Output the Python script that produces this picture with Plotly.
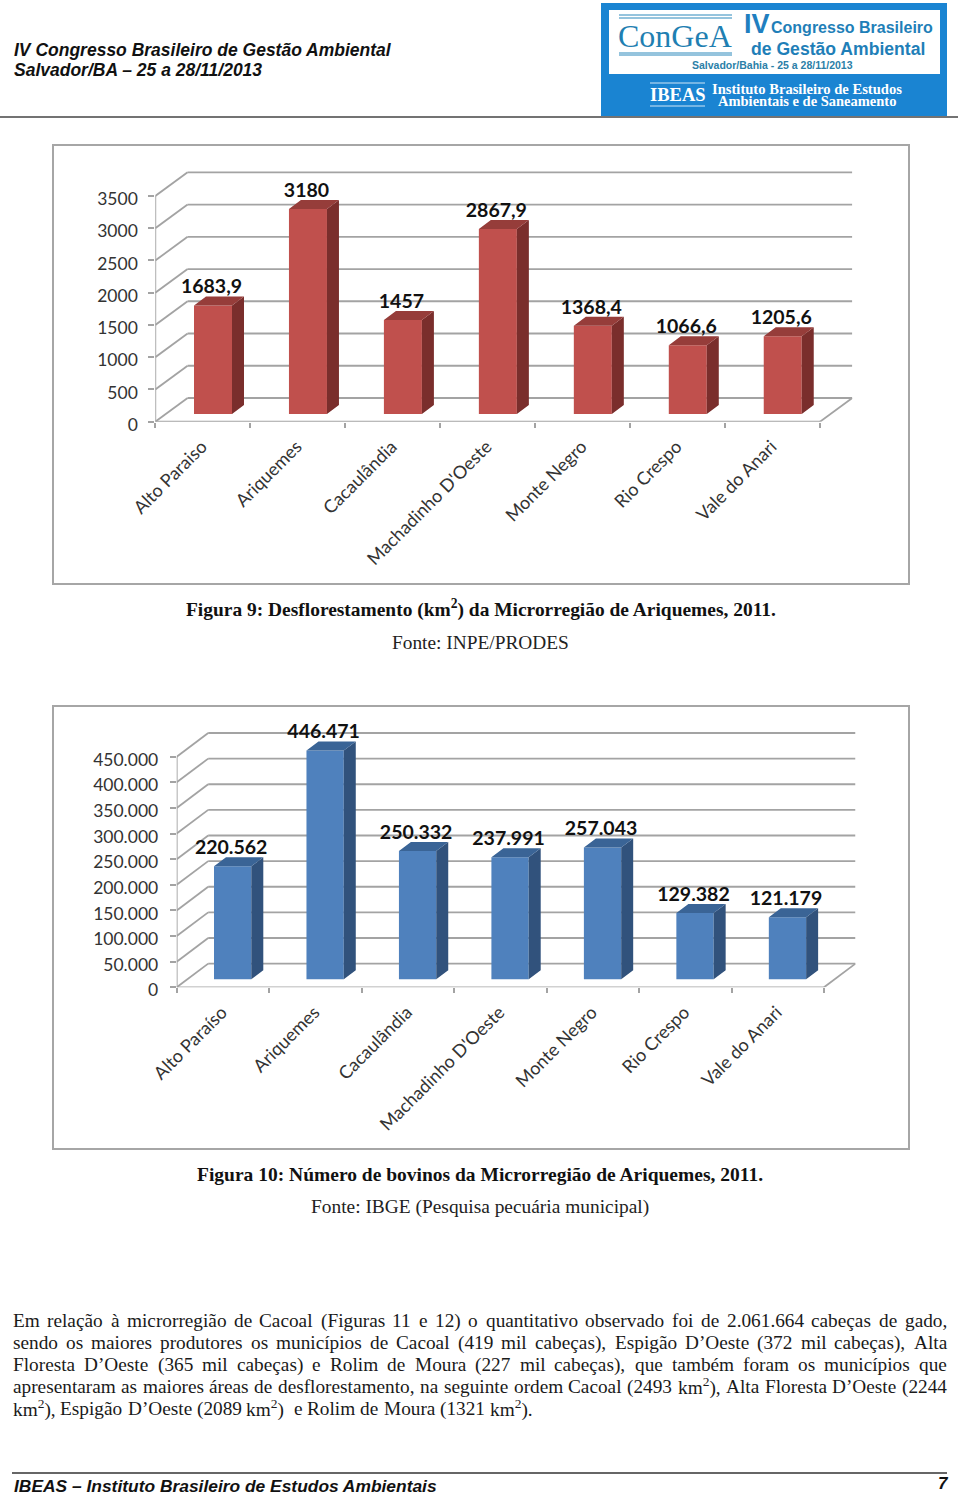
import plotly.graph_objects as go

# ---------- data ----------
categories_fig9 = ["Alto Paraiso", "Ariquemes", "Cacaulândia", "Machadinho D'Oeste", "Monte Negro", "Rio Crespo", "Vale do Anari"]
categories_fig10 = ["Alto Paraíso", "Ariquemes", "Cacaulândia", "Machadinho D'Oeste", "Monte Negro", "Rio Crespo", "Vale do Anari"]
deforestation_km2 = [1683.9, 3180, 1457, 2867.9, 1368.4, 1066.6, 1205.6]
deforestation_labels = ["1683,9", "3180", "1457", "2867,9", "1368,4", "1066,6", "1205,6"]
cattle_head = [220562, 446471, 250332, 237991, 257043, 129382, 121179]
cattle_labels = ["220.562", "446.471", "250.332", "237.991", "257.043", "129.382", "121.179"]
ticks_fig9 = [0, 500, 1000, 1500, 2000, 2500, 3000, 3500]
ticktext_fig9 = ["0", "500", "1000", "1500", "2000", "2500", "3000", "3500"]
ticks_fig10 = [0, 50000, 100000, 150000, 200000, 250000, 300000, 350000, 400000, 450000]
ticktext_fig10 = ["0", "50.000", "100.000", "150.000", "200.000", "250.000", "300.000", "350.000", "400.000", "450.000"]

W, H = 960, 1496
PX = lambda x: x / W
PY = lambda y: 1 - y / H
GRID = "#a3a3a3"
TXT = "#333333"
CHART_FONT = "Lato"
SERIF = "Liberation Serif"
SANS = "Liberation Sans"

fig = go.Figure()
shapes = []
annotations = []


def note(x, y, text, size, family=SERIF, color="#111111", anchor="left", bold=False, italic=False, yanchor="middle"):
    annotations.append(dict(
        x=PX(x), y=PY(y), xref="paper", yref="paper", text=text, showarrow=False,
        xanchor=anchor, yanchor=yanchor, align=anchor, borderpad=0,
        font=dict(family=family, size=size, color=color,
                  weight="bold" if bold else "normal", style="italic" if italic else "normal"),
    ))


def box(x0, y0, x1, y1, fill=None, line=None, lw=0, kind="rect"):
    shapes.append(dict(type=kind, xref="paper", yref="paper", x0=PX(x0), x1=PX(x1), y0=PY(y0), y1=PY(y1),
                       fillcolor=fill, line=dict(color=line, width=lw), layer="below"))


def chart(idx, cats, vals, labels, ticks, ticktext, xl, xr, y0, ymax_px, dx, dy,
          bar_left, bar_w, base_px, front, side, top, ystandoff):
    """xl/xr: front floor ends in px; y0/ymax_px: px of 0 and of the top tick; dx/dy: wall depth in px."""
    n = len(cats)
    cat_px = (xr - xl) / n
    val_per_px = ticks[-1] / (y0 - ymax_px)
    xa, ya = f"x{idx}", f"y{idx}"
    xname, yname = f"xaxis{idx}", f"yaxis{idx}"
    X = lambda p: p / cat_px
    V = lambda p: p * val_per_px
    wx, wy = X(dx), V(dy)
    pad = 20  # headroom above the wall so that the tallest value label stays in range

    fig.update_layout({
        xname: dict(domain=[PX(xl), PX(xr + dx)], range=[0, n + wx], anchor=ya, tickmode="array",
                    tickvals=[i + 0.5 for i in range(n)], ticktext=cats, tickangle=-45, ticks="",
                    ticklabelstandoff=10, ticklabelshift=-1, showgrid=False, zeroline=False, showline=False,
                    automargin=False, tickfont=dict(family=CHART_FONT, size=18, color=TXT),
                    minor=dict(tickmode="array", tickvals=list(range(n + 1)), ticks="outside", ticklen=5,
                               tickcolor=GRID, tickwidth=1.5, showgrid=False)),
        yname: dict(domain=[PY(y0), PY(ymax_px - dy - pad)], range=[0, ticks[-1] + V(dy + pad)], anchor=xa,
                    tickmode="array", tickvals=ticks, ticktext=ticktext, ticks="outside", ticklen=6,
                    tickcolor=GRID, tickwidth=1.5, ticklabelstandoff=ystandoff, ticklabelshift=3,
                    showgrid=False, zeroline=False, showline=False, automargin=False,
                    tickfont=dict(family=CHART_FONT, size=17.5, color=TXT)),
    })

    # wall and floor lines come from the tick values
    seg = dict(type="line", xref=xa, yref=ya, layer="below", line=dict(color=GRID, width=1.8))
    for t in ticks:
        shapes.append({**seg, "x0": 0, "y0": t, "x1": wx, "y1": t + wy})
        shapes.append({**seg, "x0": wx, "y0": t + wy, "x1": n + wx, "y1": t + wy})
    shapes.append({**seg, "x0": 0, "y0": 0, "x1": 0, "y1": ticks[-1]})
    shapes.append({**seg, "x0": 0, "y0": 0, "x1": n, "y1": 0})
    shapes.append({**seg, "x0": n, "y0": 0, "x1": n + wx, "y1": wy})

    offset = X(bar_left - xl)
    bw = X(bar_w)
    base = V(base_px)
    sdx, sdy = X(12), V(9)
    centers = [i + offset + bw / 2 for i in range(n)]

    fig.add_trace(go.Bar(x=centers, y=vals, base=[base] * n, width=bw, marker=dict(color=front, line=dict(width=0)),
                         xaxis=xa, yaxis=ya, hoverinfo="skip", showlegend=False))
    sx, sy, tx, ty = [], [], [], []
    for c, v in zip(centers, vals):
        l, r, b, t = c - bw / 2, c + bw / 2, base, base + v
        sx += [r, r + sdx, r + sdx, r, r, None]
        sy += [b, b + sdy, t + sdy, t, b, None]
        tx += [l, l + sdx, r + sdx, r, l, None]
        ty += [t, t + sdy, t + sdy, t, t, None]
    for px_, py_, col in ((sx, sy, side), (tx, ty, top)):
        fig.add_trace(go.Scatter(x=px_, y=py_, mode="lines", fill="toself", fillcolor=col, line=dict(width=0),
                                 xaxis=xa, yaxis=ya, hoverinfo="skip", showlegend=False))
    fig.add_trace(go.Scatter(x=[c - X(1.5) for c in centers], y=[base + v + V(17) for v in vals], text=labels,
                             mode="text", textposition="middle center", cliponaxis=False,
                             textfont=dict(family=CHART_FONT, size=19.5, color="#111111", weight="bold"),
                             xaxis=xa, yaxis=ya, hoverinfo="skip", showlegend=False))


# frames
box(53, 145, 909, 584, fill="white", line="#a6a6a6", lw=2)
box(53, 706, 909, 1149, fill="white", line="#a6a6a6", lw=2)

chart(1, categories_fig9, deforestation_km2, deforestation_labels, ticks_fig9, ticktext_fig9,
      155.3, 820, 421.7, 196, 32.3, 23.7, 194, 38, 7.7, "#c0504d", "#7a2e2c", "#963d3a", 7)
chart(2, categories_fig10, cattle_head, cattle_labels, ticks_fig10, ticktext_fig10,
      176.7, 824, 987.3, 756.7, 31.5, 23.7, 214, 37.3, 8, "#4f81bd", "#31527c", "#3a6496", 8)

# header
note(13, 50, "IV Congresso Brasileiro de Gestão Ambiental", 17.5, SANS, "#111111", bold=True, italic=True)
note(13, 70, "Salvador/BA – 25 a 28/11/2013", 17.5, SANS, "#111111", bold=True, italic=True)
box(0, 117, 958, 117, line="#444444", lw=1.5, kind="line")

# logo
box(601, 3, 947, 116, fill="#1a84d2")
box(609, 10, 940, 74, fill="white")
for yy in (15, 18, 53, 55):
    box(619, yy, 732, yy, line="#2a88bb", lw=1, kind="line")
note(617, 36, "ConGeA", 32, SERIF, "#1f7fb2")
note(743, 24, "IV", 27, SANS, "#1f7fc0", bold=True)
note(770, 27, "Congresso Brasileiro", 16, SANS, "#1f7fb8", bold=True)
note(750, 49, "de Gestão Ambiental", 17.6, SANS, "#1f7fb8", bold=True)
note(691, 65, "Salvador/Bahia - 25 a 28/11/2013", 10.5, SANS, "#2b7fa8", bold=True)
for yy in (83, 106):
    box(650, yy, 705, yy, line="#cfe6f6", lw=1, kind="line")
note(649, 95, "IBEAS", 18.5, SERIF, "white", bold=True)
note(711, 89, "Instituto Brasileiro de Estudos", 14.6, SERIF, "white", bold=True)
note(717, 101, "Ambientais e de Saneamento", 14.5, SERIF, "white", bold=True)

# captions
note(480.5, 608.5, "Figura 9: Desflorestamento (km<sup>2</sup>) da Microrregião de Ariquemes, 2011.", 19.45, SERIF, "#111111", "center", bold=True)
note(480, 642, "Fonte: INPE/PRODES", 19.35, SERIF, "#222222", "center")
note(480, 1174, "Figura 10: Número de bovinos da Microrregião de Ariquemes, 2011.", 19.5, SERIF, "#111111", "center", bold=True)
note(480, 1207, "Fonte: IBGE (Pesquisa pecuária municipal)", 19.4, SERIF, "#222222", "center")

# body text: justified word by word using Times metrics
paragraph_lines = [
    "Em relação à microrregião de Cacoal (Figuras 11 e 12) o quantitativo observado foi de 2.061.664 cabeças de gado,",
    "sendo os maiores produtores os municípios de Cacoal (419 mil cabeças), Espigão D’Oeste (372 mil cabeças), Alta",
    "Floresta D’Oeste (365 mil cabeças) e Rolim de Moura (227 mil cabeças), que também foram os municípios que",
    "apresentaram as maiores áreas de desflorestamento, na seguinte ordem Cacoal (2493 km<sup>2</sup>), Alta Floresta D’Oeste (2244",
    "km<sup>2</sup>), Espigão D’Oeste (2089 km<sup>2</sup>)  e Rolim de Moura (1321 km<sup>2</sup>).",
]
TIMES = {**{c: 500 for c in "0123456789bdghknopquvxyõ"}, **{c: 444 for c in "aceéãçáàzê"},
         "f": 333, "i": 278, "í": 278, "j": 278, "l": 278, "m": 778, "r": 333, "s": 389, "t": 278, "w": 722, "ú": 500,
         ",": 250, ".": 250, "(": 333, ")": 333, "’": 333, "E": 611, "C": 667, "F": 556, "D": 722, "O": 722, "A": 722,
         "M": 889, "R": 667}


def word_w(word, size):
    total = 0
    parts = word.replace("</sup>", "<sup>").split("<sup>")
    for i, part in enumerate(parts):
        k = 0.7 if i % 2 else 1.0
        total += sum(TIMES.get(ch, 500) for ch in part) * k
    return total * size / 1000


BODY = 19.3
LEFT, RIGHT = 12, 946
for ln, (line, yy) in enumerate(zip(paragraph_lines, (1320.5, 1342.5, 1364.5, 1386.5, 1408.5))):
    words = [w for w in line.split(" ")]
    last = ln == len(paragraph_lines) - 1
    widths = [word_w(w, BODY) for w in words]
    gap = 0.25 * BODY if last else (RIGHT - LEFT - sum(widths)) / (len(words) - 1)
    x = LEFT
    for w, wd in zip(words, widths):
        if w:
            note(x, yy, w, BODY, SERIF, "#1a1a1a")
        x += wd + gap

# footer
box(12, 1473, 947, 1473, line="#333333", lw=1.5, kind="line")
note(13, 1486, "IBEAS – Instituto Brasileiro de Estudos Ambientais", 17.4, SANS, "#111111", bold=True, italic=True)
note(943, 1483, "7", 17, SANS, "#111111", "center", bold=True, italic=True)

fig.update_layout(width=W, height=H, autosize=False, margin=dict(l=0, r=0, t=0, b=0, autoexpand=False),
                  paper_bgcolor="white", plot_bgcolor="rgba(0,0,0,0)", showlegend=False,
                  shapes=shapes, annotations=annotations)
fig.write_html("out.html", post_script="document.body.style.margin='0';", config={"displayModeBar": False})
